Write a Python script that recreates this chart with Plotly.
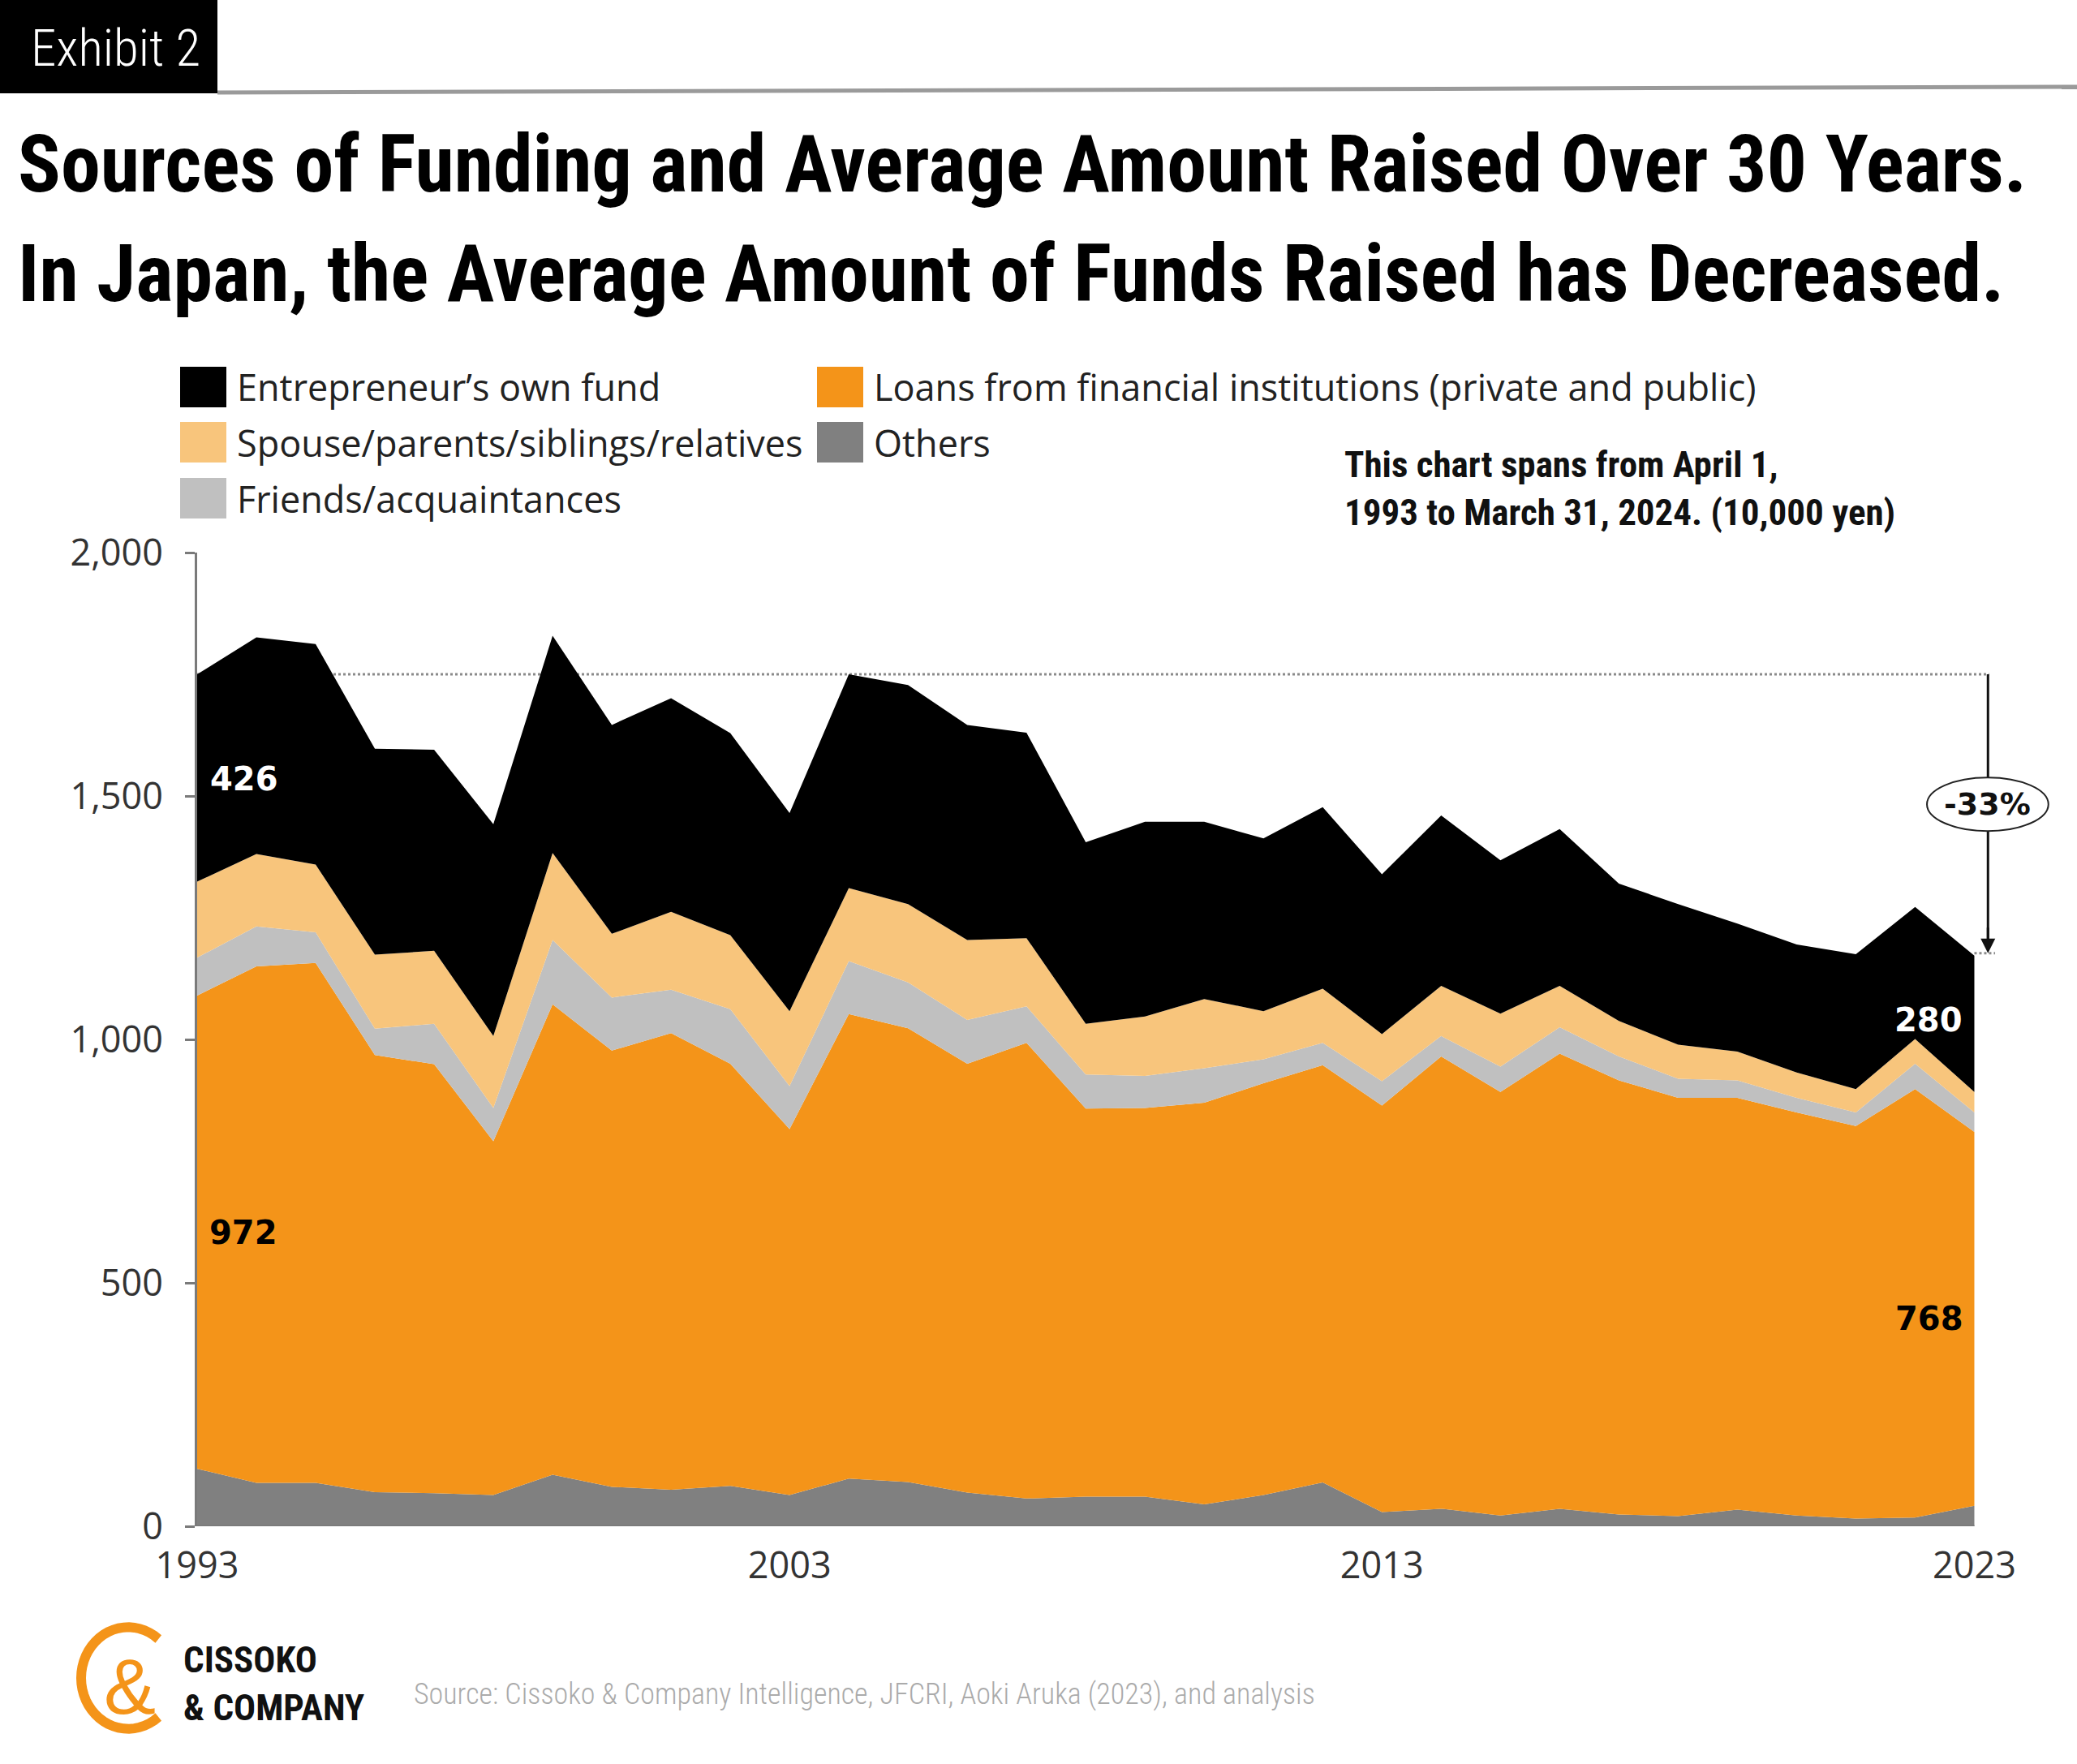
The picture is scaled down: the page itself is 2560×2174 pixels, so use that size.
import plotly.graph_objects as go
import math

# ---------------- data (10,000 yen) ----------------
years = list(range(1993, 2024))
others = [118, 89, 89, 70, 68, 64, 106, 81, 75, 83, 64, 98, 91, 69, 57,
          61, 61, 45, 64, 90, 29, 36, 22, 36, 24, 21, 34, 22, 16, 18, 42]
loans = [972, 1061, 1068, 898, 881, 727, 966, 896, 938, 867, 752, 954, 932, 881, 936,
         797, 798, 825, 846, 857, 835, 929, 870, 935, 892, 859, 846, 828, 806, 880, 768]
friends = [78, 82, 63, 54, 83, 68, 132, 109, 89, 112, 88, 109, 94, 90, 75,
           70, 66, 71, 49, 46, 50, 42, 52, 54, 49, 39, 36, 30, 28, 52, 40]
spouse = [156, 149, 139, 152, 150, 148, 179, 131, 160, 152, 154, 150, 161, 164, 140,
          104, 122, 142, 99, 111, 97, 103, 109, 85, 73, 70, 59, 52, 48, 51, 42]
entre = [426, 445, 453, 423, 413, 435, 446, 429, 439, 415, 407, 439, 450, 442, 422,
         373, 400, 364, 355, 373, 328, 350, 315, 322, 282, 289, 263, 263, 277, 271, 280]

series_names = ["Others", "Loans from financial institutions (private and public)",
                "Friends/acquaintances", "Spouse/parents/siblings/relatives",
                "Entrepreneur\u2019s own fund"]
series_colors = ["#808080", "#F49419", "#C0C0C0", "#F8C57C", "#000000"]
series_values = [others, loans, friends, spouse, entre]

y_tickvals = [0, 500, 1000, 1500, 2000]
x_tickvals = [1993, 2003, 2013, 2023]

W, H = 2560, 2174
COND = "Roboto Condensed, Roboto"


def px(x):
    return x / W


def py(y):
    return 1 - y / H


fig = go.Figure()
for name, col, vals in zip(series_names, series_colors, series_values):
    fig.add_trace(go.Scatter(x=years, y=vals, name=name, stackgroup="one", mode="none",
                             fillcolor=col, line=dict(width=0), showlegend=False,
                             hoverinfo="x+y+name"))

total_start = sum(v[0] for v in series_values)
total_end = sum(v[-1] for v in series_values)
change = round((total_end / total_start - 1) * 100)

shapes = []
annotations = []
ARROW_X = 2023.23

# dashed reference line at the 1993 total
shapes.append(dict(type="line", xref="x", yref="y", x0=1993, x1=2023.25,
                   y0=total_start, y1=total_start, layer="below",
                   line=dict(color="#8a8a8a", width=3, dash="dot")))
# baseline
shapes.append(dict(type="line", xref="x", yref="y", x0=1993, x1=2023, y0=0, y1=0,
                   layer="above", line=dict(color="#7a7a7a", width=3)))
# small dotted tick at end total
shapes.append(dict(type="line", xref="x", yref="y", x0=2023, x1=2023.35,
                   y0=total_end + 5, y1=total_end + 5, layer="above",
                   line=dict(color="#8a8a8a", width=3, dash="dot")))
# arrow shaft
shapes.append(dict(type="line", xref="x", yref="y", x0=ARROW_X, x1=ARROW_X,
                   y0=total_start, y1=total_end + 30, layer="above",
                   line=dict(color="#111", width=3)))
# oval with percentage (covers the shaft)
shapes.append(dict(type="circle", xref="x", yref="y", x0=2022.2, x1=2024.25,
                   y0=1428, y1=1538, layer="above", fillcolor="white",
                   line=dict(color="#222", width=2)))
# arrow head
annotations.append(dict(x=ARROW_X, y=total_end + 5, ax=ARROW_X, ay=total_end + 60,
                        xref="x", yref="y", axref="x", ayref="y", text="",
                        showarrow=True, arrowhead=2, arrowsize=1.2, arrowwidth=3,
                        arrowcolor="#111"))
annotations.append(dict(x=2023.22, y=1483, xref="x", yref="y", text=f"{change}%",
                        showarrow=False,
                        font=dict(family="DejaVu Sans", size=38, color="#111", weight="bold")))

# value labels
lab_font = dict(family="DejaVu Sans", size=40, weight="bold")
annotations.append(dict(x=1993.8, y=1535, xref="x", yref="y", text=str(entre[0]), showarrow=False,
                        font=dict(**lab_font, color="white")))
annotations.append(dict(x=1993.78, y=604, xref="x", yref="y", text=str(loans[0]), showarrow=False,
                        font=dict(**lab_font, color="black")))
annotations.append(dict(x=2022.22, y=1040, xref="x", yref="y", text=str(entre[-1]), showarrow=False,
                        font=dict(**lab_font, color="white")))
annotations.append(dict(x=2022.24, y=427, xref="x", yref="y", text=str(loans[-1]), showarrow=False,
                        font=dict(**lab_font, color="black")))

# ---- header ----
shapes.append(dict(type="rect", xref="paper", yref="paper", x0=px(0), x1=px(268),
                   y0=py(115), y1=py(0), fillcolor="black", line=dict(width=0)))
shapes.append(dict(type="line", xref="paper", yref="paper", x0=px(268), x1=px(2560),
                   y0=py(114), y1=py(107), line=dict(color="#9a9a9a", width=5)))
annotations.append(dict(x=px(142), y=py(60), xref="paper", yref="paper", text="Exhibit 2",
                        showarrow=False, xanchor="center", yanchor="middle",
                        font=dict(family=COND, size=63, color="white", weight=300)))
title_font = dict(family=COND, size=98, color="black", weight="bold")
annotations.append(dict(x=px(20), y=py(203), xref="paper", yref="paper",
                        text="Sources of Funding and Average Amount Raised Over 30 Years.",
                        showarrow=False, xanchor="left", yanchor="middle", font=title_font))
annotations.append(dict(x=px(20), y=py(337), xref="paper", yref="paper",
                        text="In Japan, the Average Amount of Funds Raised has Decreased.",
                        showarrow=False, xanchor="left", yanchor="middle", font=title_font))

# ---- custom legend ----
legend_items = [
    (4, 222, 477), (1, 1007, 477),
    (3, 222, 545), (0, 1007, 545),
    (2, 222, 614),
]
for idx, lx, ly in legend_items:
    shapes.append(dict(type="rect", xref="paper", yref="paper", x0=px(lx), x1=px(lx + 57),
                       y0=py(ly + 25), y1=py(ly - 25), fillcolor=series_colors[idx],
                       line=dict(width=0)))
    annotations.append(dict(x=px(lx + 68), y=py(ly), xref="paper", yref="paper",
                            text=series_names[idx], showarrow=False, xanchor="left",
                            yanchor="middle",
                            font=dict(family="Open Sans", size=45, color="#222")))

# note
annotations.append(dict(x=px(1655), y=py(602), xref="paper", yref="paper",
                        text="This chart spans from April 1,<br>1993 to March 31, 2024. (10,000 yen)",
                        showarrow=False, xanchor="left", yanchor="middle", align="left",
                        font=dict(family=COND, size=45, color="#111", weight="bold")))

# ---- footer / logo ----
cx, cy, r = 158, 2068, 58
pts = []
for k in range(0, 41):
    a = math.radians(50 + k * (260 / 40))
    pts.append((cx + r * math.cos(a), cy - r * math.sin(a) * 1.08))
path = "M" + " L".join(f"{px(x):.5f},{py(y):.5f}" for x, y in pts)
shapes.append(dict(type="path", xref="paper", yref="paper", path=path,
                   line=dict(color="#F49419", width=12)))
annotations.append(dict(x=px(160), y=py(2078), xref="paper", yref="paper", text="&",
                        showarrow=False, xanchor="center", yanchor="middle",
                        font=dict(family="Liberation Sans", size=96, color="#F49419")))
annotations.append(dict(x=px(224), y=py(2045), xref="paper", yref="paper", text="CISSOKO",
                        showarrow=False, xanchor="left", yanchor="middle",
                        font=dict(family=COND, size=45, color="#111", weight="bold")))
annotations.append(dict(x=px(224), y=py(2104), xref="paper", yref="paper", text="&amp; COMPANY",
                        showarrow=False, xanchor="left", yanchor="middle",
                        font=dict(family=COND, size=45, color="#111", weight="bold")))
annotations.append(dict(x=px(508), y=py(2088), xref="paper", yref="paper",
                        text="Source: Cissoko &amp; Company Intelligence, JFCRI, Aoki Aruka (2023), and analysis",
                        showarrow=False, xanchor="left", yanchor="middle",
                        font=dict(family=COND, size=36, color="#ababab", weight=300)))

fig.update_layout(
    width=W, height=H, autosize=False,
    margin=dict(l=0, r=0, t=0, b=0, autoexpand=False),
    paper_bgcolor="white", plot_bgcolor="white",
    showlegend=False,
    xaxis=dict(domain=[px(243), px(2543)], range=[1993, 2024.5], tickvals=x_tickvals,
               ticktext=[str(v) for v in x_tickvals], showgrid=False, zeroline=False,
               showline=False, ticks="", ticklabelstandoff=18,
               tickfont=dict(family="Open Sans", size=45, color="#333")),
    yaxis=dict(domain=[py(1881), py(681)], range=[0, 2000], tickvals=y_tickvals,
               tickformat=",", showgrid=False, zeroline=False, showline=True,
               linecolor="#7a7a7a", linewidth=3, ticks="outside", ticklen=12,
               tickwidth=3, tickcolor="#7a7a7a", ticklabelstandoff=18,
               tickfont=dict(family="Open Sans", size=45, color="#333")),
    shapes=shapes,
    annotations=annotations,
)

fig.write_html("out.html")
